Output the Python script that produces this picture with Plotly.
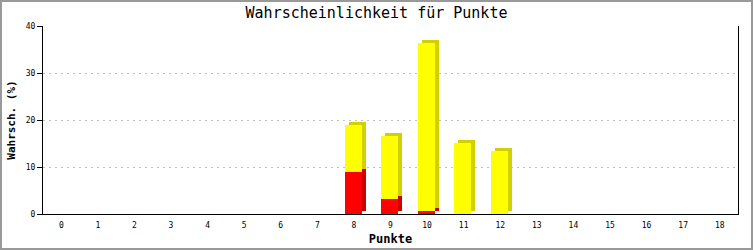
import plotly.graph_objects as go

punkte = list(range(19))
rot = [0, 0, 0, 0, 0, 0, 0, 0, 8.9, 3.2, 0.65, 0, 0, 0, 0, 0, 0, 0, 0]
gesamt = [0, 0, 0, 0, 0, 0, 0, 0, 18.9, 16.6, 36.4, 15.1, 13.4, 0, 0, 0, 0, 0, 0]
gelb = [g - r for g, r in zip(gesamt, rot)]

W, H = 753, 250
ML, MR, MT, MB = 43, 15, 26, 36
BW = 0.465          # bar width (category units)
DX = 0.11           # depth shift in x (category units)
DY = 0.64           # depth shift in y (data units)
OFF = -BW / 2 - 0.02

fig = go.Figure()
# back (side) faces
fig.add_bar(x=punkte, y=rot, base=[DY] * len(punkte), width=BW, offset=OFF + DX,
            marker=dict(color="#cc0000", line=dict(width=0)), hoverinfo="skip", showlegend=False)
fig.add_bar(x=punkte, y=gelb, base=[r + DY for r in rot], width=BW, offset=OFF + DX,
            marker=dict(color="#d2d000", line=dict(width=0)), hoverinfo="skip", showlegend=False)
# front faces
fig.add_bar(x=punkte, y=rot, base=[0] * len(punkte), width=BW, offset=OFF,
            marker=dict(color="#ff0000", line=dict(width=0)), showlegend=False)
fig.add_bar(x=punkte, y=gelb, base=rot, width=BW, offset=OFF,
            marker=dict(color="#ffff00", line=dict(width=0)), showlegend=False)

pw = W - ML - MR
ph = H - MT - MB
fig.add_shape(type="rect", xref="paper", yref="paper",
              x0=-(ML - 1) / pw, x1=1 + (MR - 1) / pw,
              y0=-(MB - 1) / ph, y1=1 + (MT - 1) / ph,
              line=dict(color="#999999", width=2), layer="above")

fig.update_layout(
    width=W, height=H,
    margin=dict(l=ML, r=MR, t=MT, b=MB, pad=0, autoexpand=False),
    paper_bgcolor="white", plot_bgcolor="white",
    barmode="overlay", bargap=0,
    title=dict(text="Wahrscheinlichkeit für Punkte", x=0.5, xanchor="center",
               y=1 - 13 / H, yanchor="middle",
               font=dict(family="DejaVu Sans Mono", size=15, color="black")),
    font=dict(family="DejaVu Sans Mono", color="black"),
    xaxis=dict(range=[-0.5, 18.5], tickvals=punkte, ticktext=[str(p) for p in punkte],
               showgrid=False, zeroline=False, showline=True, linecolor="black", linewidth=1,
               ticks="", tickfont=dict(size=8), ticklabelstandoff=3, automargin=False,
               title=dict(text="<b>Punkte</b>", font=dict(size=12), standoff=6)),
    yaxis=dict(range=[0, 40], tickvals=[0, 10, 20, 30, 40], automargin=False,
               showgrid=True, gridcolor="#c0c0c0", griddash="2px,4px", gridwidth=1,
               zeroline=False, showline=True, mirror=True, linecolor="black", linewidth=1,
               ticks="outside", ticklen=5, tickcolor="black", tickfont=dict(size=8),
               title=dict(text="<b>Wahrsch. (%)</b>", font=dict(size=11), standoff=7)),
)

fig.write_html("out.html")
